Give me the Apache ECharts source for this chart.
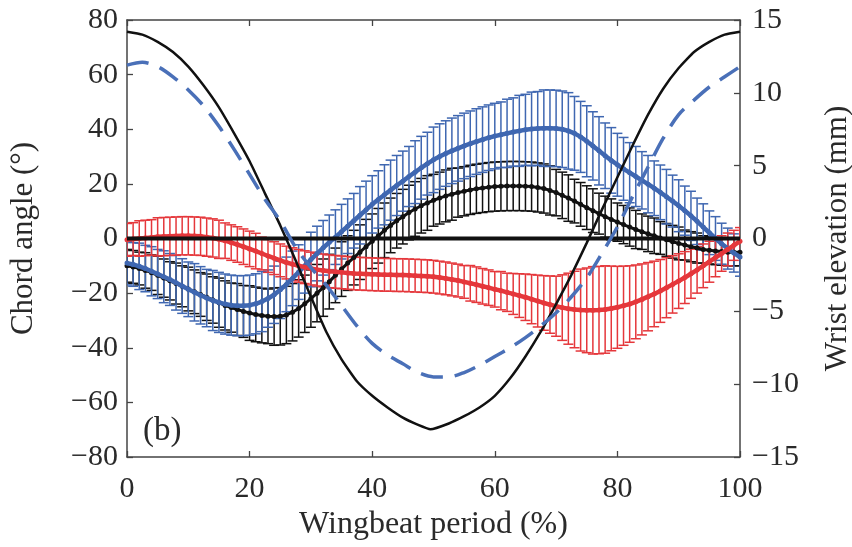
<!DOCTYPE html>
<html><head><meta charset="utf-8">
<script src="https://cdn.jsdelivr.net/npm/echarts@6/dist/echarts.min.js"></script>
<style>html,body{margin:0;padding:0;background:#fff}#c{width:852px;height:547px}</style>
</head><body><div id="c"></div>
<script>
// Wingbeat period (%) sample positions
const pct = [0,1,2,3,4,5,6,7,8,9,10,11,12,13,14,15,16,17,18,19,20,21,22,23,24,25,26,27,28,29,30,31,32,33,34,35,36,37,38,39,40,41,42,43,44,45,46,47,48,49,50,51,52,53,54,55,56,57,58,59,60,61,62,63,64,65,66,67,68,69,70,71,72,73,74,75,76,77,78,79,80,81,82,83,84,85,86,87,88,89,90,91,92,93,94,95,96,97,98,99,100];

// Chord angle (deg), blue series
const blueMean = [-9.0,-9.5,-10.2,-11.0,-12.0,-13.0,-14.0,-15.0,-16.2,-17.4,-18.6,-19.7,-20.8,-21.8,-22.7,-23.4,-24.0,-24.4,-24.6,-24.6,-24.4,-23.9,-23.1,-22.0,-20.6,-18.8,-16.8,-14.6,-12.3,-10.0,-7.7,-5.5,-3.4,-1.4,0.5,2.5,4.5,6.5,8.5,10.5,12.5,14.3,16.0,17.7,19.4,21.0,22.7,24.3,25.9,27.4,28.8,30.0,31.1,32.1,33.0,33.9,34.7,35.5,36.2,36.9,37.5,38.0,38.5,39.0,39.4,39.8,40.1,40.3,40.4,40.4,40.3,40.0,39.4,38.5,37.2,35.6,33.9,32.1,30.3,28.6,27.0,25.5,24.1,22.7,21.3,19.9,18.4,16.9,15.3,13.7,12.0,10.2,8.3,6.3,4.2,2.1,0.0,-1.9,-3.7,-5.3,-6.8];
const blueSd = [8,8,8.5,8.5,9,9,9.5,9.5,10,10,10,10.5,10.5,10.5,11,11,11,11,11,11,11,11,11,10.5,10.5,10.5,10,10,10,10,10,10,10,10,10,10,10,10,10.5,10.5,10.5,10.5,11,11,11,11,11,11.5,11.5,11.5,12,12,12,12,12,12,12,12,12,12,12,12,12.5,12.5,13,13,13.5,13.5,14,14,14,14,14,13.5,13,13,12.5,12.5,12,12,11.5,11.5,11,11,10.5,10.5,10,10,10,9.5,9.5,9,9,8.5,8.5,8,8,7.5,7.5,7,7];

// Chord angle (deg), black series
const blackMean = [-10.0,-10.4,-11.0,-11.7,-12.5,-13.5,-14.5,-15.5,-16.5,-17.5,-18.5,-19.5,-20.5,-21.5,-22.5,-23.5,-24.5,-25.3,-26.0,-26.7,-27.3,-27.8,-28.2,-28.5,-28.6,-28.5,-28.0,-27.0,-25.6,-23.9,-22.0,-20.0,-18.0,-15.8,-13.5,-11.2,-9.0,-7.0,-5.0,-3.0,-1.0,1.0,3.0,4.8,6.5,8.0,9.5,10.8,12.0,13.0,14.0,14.8,15.6,16.2,16.8,17.3,17.8,18.2,18.5,18.8,19.0,19.1,19.2,19.2,19.2,19.1,19.0,18.7,18.3,17.6,16.8,15.8,14.8,13.7,12.5,11.3,10.2,9.1,8.0,7.0,6.0,5.1,4.2,3.3,2.5,1.7,1.0,0.2,-0.5,-1.2,-1.8,-2.4,-3.0,-3.5,-4.0,-4.3,-4.6,-4.8,-5.0,-5.0,-5.0];
const blackSd = [6,6,6,6.5,6.5,7,7,7,7.5,7.5,8,8,8,8.5,8.5,9,9,9,9.5,9.5,10,10,10,10,10.5,10.5,10.5,10.5,10.5,10.5,10.5,10.5,10.5,10,10,10,10,10,10,10,10,10,10,10,10,10,10,10,10,10,9.5,9.5,9.5,9.5,9,9,9,9,9,9,9,9,9,9,9,9,9,9,9,9,8.5,8.5,8.5,8,8,8,8,7.5,7.5,7.5,7,7,7,7,6.5,6.5,6.5,6,6,6,6,5.5,5.5,5.5,5,5,5,5,5,5,5];

// Chord angle (deg), red series
const redMean = [-0.5,-0.2,0.0,0.2,0.4,0.6,0.7,0.8,0.9,1.0,1.0,0.9,0.8,0.5,0.2,-0.3,-0.8,-1.5,-2.2,-3.0,-3.8,-4.6,-5.5,-6.4,-7.2,-8.0,-8.8,-9.4,-10.0,-10.5,-11.0,-11.4,-11.7,-12.0,-12.2,-12.4,-12.6,-12.8,-12.9,-13.0,-13.1,-13.2,-13.3,-13.3,-13.4,-13.4,-13.5,-13.6,-13.7,-13.8,-14.0,-14.3,-14.6,-15.0,-15.4,-15.9,-16.4,-16.9,-17.5,-18.0,-18.6,-19.1,-19.7,-20.3,-20.9,-21.5,-22.2,-22.9,-23.6,-24.2,-24.8,-25.3,-25.7,-26.0,-26.2,-26.3,-26.3,-26.2,-26.0,-25.6,-25.2,-24.6,-24.0,-23.2,-22.3,-21.3,-20.3,-19.2,-18.0,-16.8,-15.6,-14.3,-12.9,-11.5,-10.0,-8.5,-7.0,-5.5,-4.0,-2.5,-1.0];
const redSd = [6,6,6.5,6.5,6.5,7,7,7,7,7,7,7,7,7,7,7,6.5,6.5,6.5,6.5,6.5,6.5,6,6,6,6,6,6,6,6,6,6,6,6,6,6,6,6,6,6,6,6,6,6,6,6,6,6,6,6,6,6,6,6,6,6,6.5,6.5,6.5,6.5,6.5,7,7,7.5,8,8.5,9,9.5,10,10.5,11,12,13,14,15,15.5,16,16,16,15.5,15,14.5,14,13.5,13,12.5,12,11.5,11,10.5,10,9.5,9,8.5,8,7.5,7,6.5,6,5.5,5];

// Wrist elevation (mm), solid black
const wristX = [0,2.5,5,7.5,10,12.5,15,17.5,20,22.5,25,27.5,30,32.5,35,37.5,40,42.5,45,47.5,49.5,52.5,55,57.5,60,62.5,65,67.5,70,72.5,75,77.5,80,82.5,85,87.5,90,92.5,95,97.5,100];
const wristBlack = [14.2,14.0,13.5,12.8,11.8,10.5,9.0,7.2,5.3,3.1,0.9,-1.5,-4.0,-6.4,-8.3,-9.8,-10.8,-11.6,-12.3,-12.8,-13.1,-12.7,-12.2,-11.6,-10.8,-9.6,-8.1,-6.4,-4.5,-2.5,-0.3,2.0,4.2,6.4,8.5,10.3,11.7,12.8,13.5,14.0,14.2];
// Wrist elevation (mm), dashed blue
const dashX = [0,2.5,5,7.5,10,12.5,15,17.5,20,22.5,25,27.5,30,32.5,35,37.5,40,42.5,45,47.5,50,52.5,55,57.5,60,62.5,65,67.5,70,72.5,75,77.5,80,82.5,85,87.5,90,92.5,95,97.5,100];
const wristBlue = [11.9,12.1,11.8,11.1,10.2,9.1,7.7,6.1,4.4,2.7,1.2,-0.6,-2.0,-3.2,-4.6,-6.0,-7.2,-8.0,-8.6,-9.2,-9.5,-9.5,-9.2,-8.7,-8.1,-7.5,-6.8,-6.0,-5.1,-4.0,-2.7,-1.0,0.8,2.9,4.9,6.9,8.5,9.5,10.4,11.1,11.8];

// reference zero line
const zeroX = [0, 100];
const zeroY = [0, 0];

const FONT = '"Liberation Serif","Times New Roman",serif';
const TXT = '#2a2a2a';
const BLUE = '#3f67b1', RED = '#e5373b', BLACK = '#111111';

function errSeries(name, mean, sd, color, z) {
  return {
    type: 'custom', name, xAxisIndex: 0, yAxisIndex: 0, z, silent: true, clip: true,
    data: pct.map((p, i) => [p, mean[i], sd[i]]),
    encode: { x: 0, y: 1 },
    renderItem(params, api) {
      const x = api.value(0), m = api.value(1), s = api.value(2);
      const t = api.coord([x, m + s]), b = api.coord([x, m - s]);
      const hw = 5;
      const st = { stroke: color, lineWidth: 1.5 };
      return { type: 'group', children: [
        { type: 'line', shape: { x1: t[0], y1: t[1], x2: b[0], y2: b[1] }, style: st },
        { type: 'line', shape: { x1: t[0] - hw, y1: t[1], x2: t[0] + hw, y2: t[1] }, style: st },
        { type: 'line', shape: { x1: b[0] - hw, y1: b[1], x2: b[0] + hw, y2: b[1] }, style: st }
      ]};
    }
  };
}
function meanSeries(name, mean, color, z, w) {
  return {
    type: 'line', name, xAxisIndex: 0, yAxisIndex: 0, z,
    data: pct.map((p, i) => [p, mean[i]]),
    symbol: 'circle', symbolSize: 5, showSymbol: true,
    itemStyle: { color }, lineStyle: { color, width: w }, silent: true
  };
}

const axisLine = { show: true, onZero: false, lineStyle: { color: '#444', width: 1.5 } };
const tick = { show: true, inside: true, length: 6, lineStyle: { color: '#444', width: 1.3 } };
const lbl = { color: TXT, fontFamily: FONT, fontSize: 30 };
const neg = v => (v < 0 ? '\u2212' + (-v) : '' + v);

const chart = echarts.init(document.getElementById('c'), null, { renderer: 'canvas' });
chart.setOption({
  animation: false,
  backgroundColor: '#fff',
  title: { text: '(b)', left: 138, top: 410, textStyle: { fontFamily: FONT, fontSize: 33, fontWeight: 'normal', color: TXT } },
  grid: { left: 127, right: 112, top: 20, bottom: 90, containLabel: false, outerBoundsMode: 'none' },
  xAxis: [
    { type: 'value', min: 0, max: 100, interval: 20, position: 'bottom',
      name: 'Wingbeat period (%)', nameLocation: 'middle', nameGap: 52,
      nameTextStyle: { color: TXT, fontFamily: FONT, fontSize: 32 },
      axisLine, axisTick: tick, splitLine: { show: false },
      axisLabel: Object.assign({ margin: 17 }, lbl) },
    { type: 'value', min: 0, max: 100, interval: 20, position: 'top',
      axisLine, axisTick: tick, splitLine: { show: false }, axisLabel: { show: false } }
  ],
  yAxis: [
    { type: 'value', min: -80, max: 80, interval: 20, position: 'left',
      name: 'Chord angle (°)', nameLocation: 'middle', nameGap: 88, nameRotate: 90,
      nameTextStyle: { color: TXT, fontFamily: FONT, fontSize: 31 },
      axisLine, axisTick: tick, splitLine: { show: false },
      axisLabel: Object.assign({ margin: 9, formatter: neg }, lbl) },
    { type: 'value', min: -15, max: 15, interval: 5, position: 'right',
      name: 'Wrist elevation (mm)', nameLocation: 'middle', nameGap: 82, nameRotate: 90,
      nameTextStyle: { color: TXT, fontFamily: FONT, fontSize: 31 },
      axisLine, axisTick: tick, splitLine: { show: false },
      axisLabel: Object.assign({ margin: 12, formatter: neg }, lbl) }
  ],
  series: [
    errSeries('black-err', blackMean, blackSd, BLACK, 2),
    errSeries('blue-err', blueMean, blueSd, BLUE, 3),
    errSeries('red-err', redMean, redSd, RED, 4),
    meanSeries('black-mean', blackMean, BLACK, 5, 3),
    meanSeries('blue-mean', blueMean, BLUE, 6, 4.5),
    meanSeries('red-mean', redMean, RED, 7, 4.5),
    { type: 'line', name: 'zero', xAxisIndex: 0, yAxisIndex: 0, z: 8, silent: true,
      data: zeroX.map((x, i) => [x, zeroY[i]]), symbol: 'none',
      lineStyle: { color: BLACK, width: 4 } },
    { type: 'line', name: 'wrist-black', xAxisIndex: 0, yAxisIndex: 1, z: 9, silent: true,
      data: wristX.map((x, i) => [x, wristBlack[i]]), symbol: 'none', smooth: 0.15,
      lineStyle: { color: BLACK, width: 2.5 } },
    { type: 'line', name: 'wrist-blue', xAxisIndex: 0, yAxisIndex: 1, z: 9, silent: true,
      data: dashX.map((x, i) => [x, wristBlue[i]]), symbol: 'none', smooth: 0.3,
      lineStyle: { color: '#4a70b8', width: 3.5, type: [22, 12] } }
  ]
});
</script></body></html>
